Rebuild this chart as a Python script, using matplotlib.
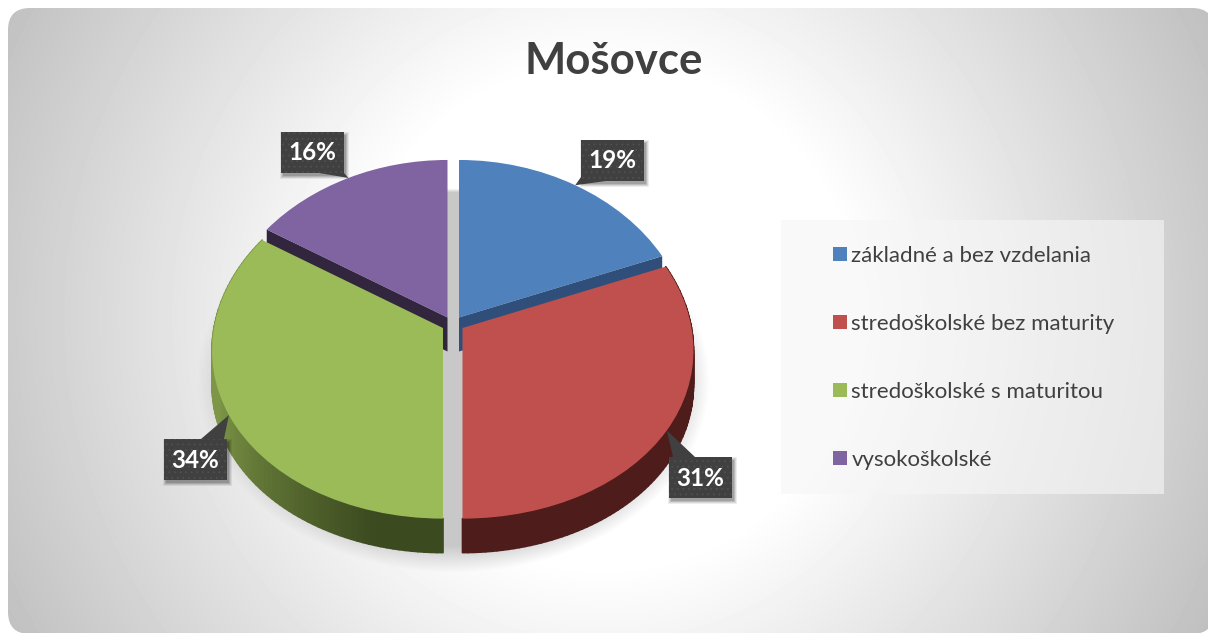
import numpy as np
import matplotlib
matplotlib.use("Agg")
import matplotlib.pyplot as plt
from matplotlib.patches import FancyBboxPatch, Polygon, Rectangle
from matplotlib.collections import PolyCollection
from matplotlib.transforms import Transform

# ---- data -------------------------------------------------------------
categories = ["základné a bez vzdelania", "stredoškolské bez maturity",
              "stredoškolské s maturitou", "vysokoškolské"]
values = [19, 31, 34, 16]
title = "Mošovce"

# ---- styles / layout ---------------------------------------------------
top_colors = ["#4f81bd", "#c0504d", "#9bbb59", "#8064a2"]
side_colors = [("#2f4f7a", "#2f4f7a"), ("#4e1c1b", "#4e1c1b"),
               ("#3c4a20", "#7d9647"), ("#31263e", "#31263e")]
hubs = [(459.0, 317.5), (462.5, 328.0), (443.0, 328.0), (447.5, 317.5)]
RX, RY, PX, PY, DEPTH = 229.0, 172.5, 0.13, 0.095, 34.0
label_boxes = [(581, 140), (669, 457), (164, 439), (281, 132)]
callout_bases = [((0, 37), (25, 41)), ((4, 0), (26, 0)), ((37, 0), (60, 0)), ((38, 41), (63, 41))]
BOX_W, BOX_H = 63, 41
TEXT = "#404040"
FONT = "Lato"

plt.rcParams["font.family"] = [FONT, "DejaVu Sans"]
plt.rcParams["hatch.linewidth"] = 0.6
fig = plt.figure(figsize=(12.08, 6.33), dpi=100, facecolor="white")
ax = fig.add_axes([0, 0, 1, 1])


class Perspective(Transform):
    """Unit-circle pie plane -> pixel-like data coordinates, tilted in perspective."""
    input_dims = 2
    output_dims = 2
    is_separable = False
    has_inverse = False

    def __init__(self, hub, drop=0.0):
        super().__init__()
        self.hub = hub
        self.drop = drop

    def transform_non_affine(self, xy):
        xy = np.asarray(xy, float)
        return np.column_stack([
            self.hub[0] + RX * xy[:, 0] / (1 + PX * xy[:, 1]),
            self.hub[1] + self.drop - RY * xy[:, 1] / (1 + PY * xy[:, 1])])


# pie first: it resets limits and aspect, which are replaced below
wedges, _ = ax.pie(values, colors=top_colors, startangle=90, counterclock=False,
                   wedgeprops=dict(linewidth=0))
ax.set_aspect("auto")
ax.axis("off")

# background: rounded panel with radial gradient
yy, xx = np.mgrid[0:633, 0:1208]
dist = np.hypot(xx - 604, yy - 316)
grey = np.clip(255 - (dist - 250) / 420 * 62, 190, 255) / 255
bg = ax.imshow(grey, cmap="gray", vmin=0, vmax=1, extent=(0, 1208, 633, 0),
               aspect="auto", zorder=0, interpolation="bilinear")
ax.set_xlim(0, 1208)
ax.set_ylim(633, 0)
panel = FancyBboxPatch((30, 30), 1162, 582, boxstyle="round,pad=22,rounding_size=22",
                       transform=ax.transData, fc="none", ec="none")
ax.add_patch(panel)
bg.set_clip_path(panel)

# floor shadow under the pie: crisp at the back, soft at the front
r = np.hypot((xx - 453) / 256, (yy - 380) / 192)
fade = np.interp(yy, [200, 330], [0.02, 0.14])
shadow = np.zeros((633, 1208, 4))
shadow[..., :3] = 0.785
shadow[..., 3] = np.clip((1 - r) / fade, 0, 1)
ax.imshow(shadow, extent=(0, 1208, 633, 0), aspect="auto", zorder=1)
ax.set_xlim(0, 1208)
ax.set_ylim(633, 0)


def rgb(c):
    return np.array(matplotlib.colors.to_rgb(c))


fr = np.cumsum([0] + values) / sum(values)
angles = fr * 2 * np.pi  # clockwise from the top

for i, w in enumerate(wedges):
    front = i in (1, 2)
    t1, t2 = angles[i], angles[i + 1]
    top = Perspective(hubs[i])
    low = Perspective(hubs[i], DEPTH)
    w.set_transform(top + ax.transData)
    w.set_zorder(6 if front else 4)
    w.set_clip_on(False)

    if front:  # outer rim, shaded along the arc
        th = np.linspace(t1, t2, 90)
        uv = np.column_stack([np.sin(th), np.cos(th)])
        a, b = top.transform(uv), low.transform(uv)
        quads = [[a[k], a[k + 1], b[k + 1], b[k]] for k in range(len(th) - 1)]
        c0, c1 = rgb(side_colors[i][0]), rgb(side_colors[i][1])
        frac = np.linspace(0, 1, len(quads))
        if i == 2:  # dark at the front, lighter toward the left end
            frac = np.clip((frac - 0.12) / 0.45, 0, 1)
        cols = [c0 + (c1 - c0) * f for f in frac]
        ax.add_collection(PolyCollection(quads, facecolors=cols, edgecolors=cols,
                                         linewidths=1.2, zorder=5))
    else:      # the cut face looking toward the viewer
        cut = t2 if i == 0 else t1
        edge = np.array([[0, 0], [np.sin(cut), np.cos(cut)]])
        a, b = top.transform(edge), low.transform(edge)
        ax.add_patch(Polygon([a[0], a[1], b[1], b[0]], fc=side_colors[i][0],
                             ec="none", zorder=3))

# data labels with callouts to the middle of each slice's rim
for i, (v, (bx, by)) in enumerate(zip(values, label_boxes)):
    mid = (angles[i] + angles[i + 1]) / 2
    tip = Perspective(hubs[i]).transform(np.array([[np.sin(mid), np.cos(mid)]]))[0]
    (b0x, b0y), (b1x, b1y) = callout_bases[i]
    for grow, al in ((3, 0.07), (2, 0.09), (1, 0.12), (0, 0.14)):
        ax.add_patch(Rectangle((bx + 2 - grow, by + 3 - grow), BOX_W + 2 * grow, BOX_H + 2 * grow,
                               fc="black", ec="none", alpha=al, zorder=7))
    ax.add_patch(Polygon([tip, (bx + b0x, by + b0y), (bx + b1x, by + b1y)],
                         fc="#404040", ec="none", zorder=8))
    ax.add_patch(Rectangle((bx, by), BOX_W, BOX_H, fc="#404040", ec="#505050", lw=0,
                           hatch="...", zorder=8))
    ax.text(bx + BOX_W / 2, by + BOX_H / 2 + 0.5, f"{v}%", color="white", fontsize=17.5,
            fontweight="bold", ha="center", va="center", zorder=9)

ax.text(613.5, 61, title, color=TEXT, fontsize=31.5, fontweight="bold",
        ha="center", va="center", zorder=9)

# legend
ax.add_patch(Rectangle((781, 220), 383, 274, fc="#f6f6f6", ec="none", alpha=0.62, zorder=2))
ax.legend(wedges, categories, loc="upper left", bbox_to_anchor=(833, 246),
          bbox_transform=ax.transData, frameon=False, fontsize=16, labelcolor=TEXT,
          borderpad=0, borderaxespad=0, handlelength=0.63, handleheight=0.63,
          handletextpad=0.2, labelspacing=2.16)

fig.savefig("out.png", dpi=100, facecolor="white")
